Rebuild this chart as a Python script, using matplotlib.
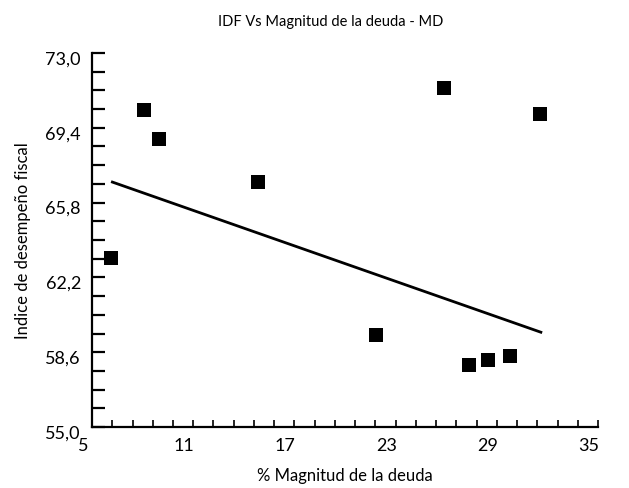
import matplotlib
matplotlib.use("Agg")
import matplotlib.pyplot as plt
import matplotlib.transforms as mtransforms
import numpy as np
from matplotlib.ticker import FixedLocator, FuncFormatter

plt.rcParams['font.family'] = ['Lato', 'DejaVu Sans']

magnitud = [6.13, 8.06, 8.97, 14.82, 21.82, 25.88, 27.37, 28.47, 29.78, 31.57]
idf = [63.13, 70.27, 68.88, 66.79, 59.44, 71.32, 58.00, 58.24, 58.43, 70.08]
trend_x = [6.13, 31.69]
trend_y = [66.81, 59.54]

x_major = [5, 11, 17, 23, 29, 35]
y_major = [55.0, 58.6, 62.2, 65.8, 69.4, 73.0]

title = "IDF Vs Magnitud de la deuda - MD"
xlabel = "% Magnitud de la deuda"
ylabel = "Indice de desempeño fiscal"

fig = plt.figure(figsize=(6.29, 4.89), dpi=100)
ax = fig.add_axes([0.1463, 0.1247, 0.8044, 0.7649])

ax.plot(trend_x, trend_y, color='black', lw=2.0, solid_capstyle='butt')
ax.plot(magnitud, idf, 's', color='black', markersize=9.4, markeredgewidth=0)

ax.set_xlim(x_major[0], x_major[-1])
ax.set_ylim(y_major[0], y_major[-1])
ax.xaxis.set_major_locator(FixedLocator(x_major))
ax.xaxis.set_minor_locator(FixedLocator(np.linspace(x_major[0], x_major[-1], 26)))
ax.yaxis.set_major_locator(FixedLocator(y_major))
ax.yaxis.set_minor_locator(FixedLocator(np.linspace(y_major[0], y_major[-1], 21)))
ax.yaxis.set_major_formatter(FuncFormatter(lambda v, p: f"{v:.1f}".replace('.', ',')))
ax.xaxis.set_major_formatter(FuncFormatter(lambda v, p: f"{v:.0f}"))

for s in ['top', 'right']:
    ax.spines[s].set_visible(False)
for s in ['left', 'bottom']:
    ax.spines[s].set_linewidth(1.6)

ax.tick_params(axis='y', which='both', direction='in', length=9.5, width=1.6, labelsize=13, pad=8)
ax.tick_params(axis='x', which='both', direction='in', length=5, width=1.2, labelsize=13, pad=7)

# shift tick labels slightly as in the reference
xoff = mtransforms.ScaledTranslation(-9/100, 0, fig.dpi_scale_trans)
for lbl in ax.get_xticklabels():
    lbl.set_transform(lbl.get_transform() + xoff)
yoff = mtransforms.ScaledTranslation(0, -4/100, fig.dpi_scale_trans)
for lbl in ax.get_yticklabels():
    lbl.set_transform(lbl.get_transform() + yoff)

ax.set_xlabel(xlabel, fontsize=12, labelpad=10)
ax.set_ylabel(ylabel, fontsize=12, labelpad=10)
fig.text(0.525, 0.955, title, ha='center', va='center', fontsize=10.5)

fig.savefig("out.png", dpi=100)
